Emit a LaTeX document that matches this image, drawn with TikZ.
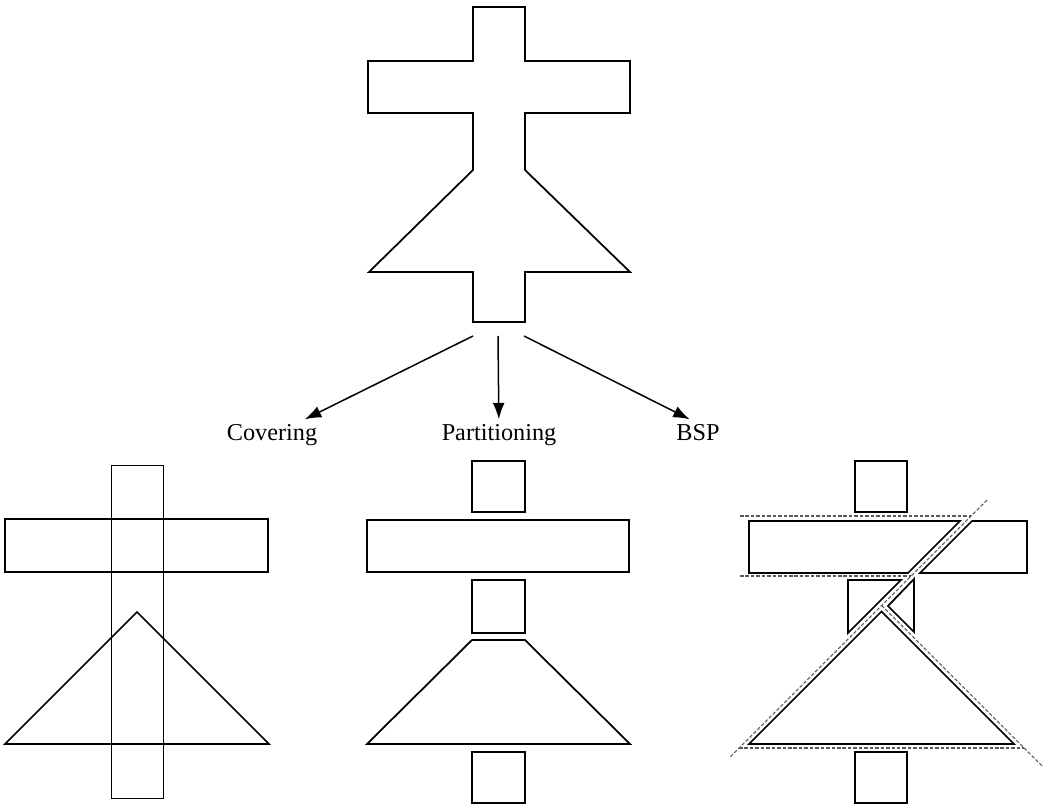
\documentclass[tikz,border=0pt]{standalone}
\usepackage{fontspec}
\setmainfont{Liberation Serif}
\usetikzlibrary{arrows.meta}

\begin{document}
\begin{tikzpicture}[
        x=0.02cm,
        y=-0.02cm,
        outline/.style={line width=1pt},
        thinoutline/.style={line width=0.45pt},
        splitline/.style={
            black!65,
            line width=0.6pt,
            dash pattern=on 2pt off 1.1pt
        },
        branch/.style={
            line width=0.85pt,
            -{Latex[length=3.3mm, width=2.4mm]}
        },
        method/.style={
            font=\fontsize{13.8}{16}\selectfont,
            inner sep=3pt,
            anchor=base
        }
    ]

    \useasboundingbox (0,0) rectangle (1049,807);

    \draw[outline] (473,7) -- (525,7) -- (525,61) -- (630,61) -- (630,113)
        -- (525,113) -- (525,170) -- (630,272) -- (525,272) -- (525,322)
        -- (473,322) -- (473,272) -- (369,272) -- (473,170) -- (473,113)
        -- (368,113) -- (368,61) -- (473,61) -- cycle;

    \coordinate (covS) at (473,336);
    \coordinate (partS) at (498,336);
    \coordinate (bspS) at (524,336);

    \node[method] (covL) at (272,441) {Covering};
    \node[method] (partL) at (499,441) {Partitioning};
    \node[method] (bspL) at (698,441) {BSP};

    \draw[branch] (covS) -- (covL);
    \draw[branch] (partS) -- (partL);
    \draw[branch] (bspS) -- (bspL.121);

    \draw[thinoutline] (111,465) rectangle (163,798);
    \draw[outline] (5,519) rectangle (268,572);
    \draw[outline] (137,612) -- (5,744) -- (269,744) -- cycle;

    \draw[outline] (472,461) rectangle (525,512);
    \draw[outline] (367,520) rectangle (629,572);
    \draw[outline] (472,580) rectangle (525,633);
    \draw[outline] (472,640) -- (525,640) -- (630,744) -- (367,744) -- cycle;
    \draw[outline] (472,752) rectangle (525,803);

    \draw[splitline] (740,516) -- (971,516);
    \draw[splitline] (740,576) -- (911,576);
    \draw[splitline] (739,748) -- (1024,748);
    \draw[splitline] (987,500) -- (730,757);
    \draw[splitline] (881.5,605.5) -- (1042,766);

    \draw[outline] (855,461) rectangle (907,512);
    \draw[outline] (749,521) -- (960,521) -- (908,573) -- (749,573) -- cycle;
    \draw[outline] (972,521) -- (1027,521) -- (1027,573) -- (920,573) -- cycle;
    \draw[outline] (848,580) -- (901,580) -- (848,633) -- cycle;
    \draw[outline] (914,579) -- (914,632) -- (888,606) -- cycle;
    \draw[outline] (881.5,611.5) -- (749,744) -- (1014,744) -- cycle;
    \draw[outline] (855,752) rectangle (907,803);

    \end{tikzpicture}
\end{document}
